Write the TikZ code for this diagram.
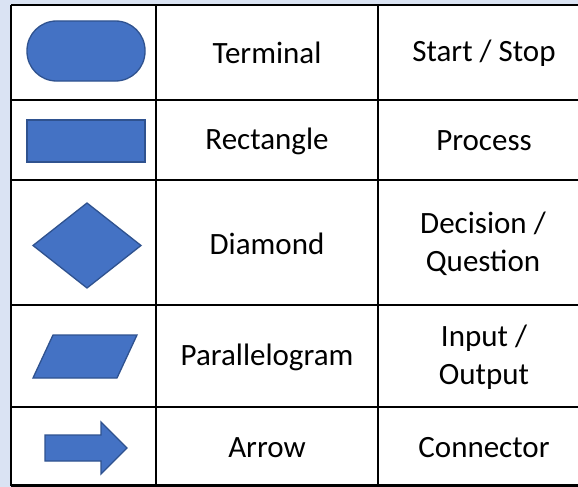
\documentclass[tikz,border=0pt]{standalone}
\usepackage{fontspec}
\setmainfont{Carlito}
\definecolor{pagebg}{HTML}{DAE3F3}
\definecolor{shapefill}{HTML}{4472C4}
\definecolor{shapeedge}{HTML}{2F528F}
\tikzset{
  gridline/.style={line width=2.6pt, black},
  symbol/.style={fill=shapefill, draw=shapeedge, line width=1.3pt, line join=miter},
  label/.style={font=\fontsize{31}{38}\selectfont, align=center, inner sep=0pt},
}
\begin{document}
\begin{tikzpicture}[x=1pt, y=-1pt]
  % page and table background
  \fill[pagebg] (0,0) rectangle (578,487);
  \useasboundingbox (0,0) rectangle (578,487);
  \fill[white] (11,5) rectangle (578,486);

  % table rules
  \draw[gridline] (11,5) -- (578,5);
  \draw[gridline] (11,100) -- (578,100);
  \draw[gridline] (11,180) -- (578,180);
  \draw[gridline] (11,305) -- (578,305);
  \draw[gridline] (11,407) -- (578,407);
  \draw[gridline] (11,485.5) -- (578,485.5);
  \draw[gridline] (11,5) -- (11,486);
  \draw[gridline] (156,5) -- (156,486);
  \draw[gridline] (378,5) -- (378,486);

  % symbols
  \draw[symbol, rounded corners=29.5pt] (27,21) rectangle (145,81);
  \draw[symbol] (27,120) rectangle (145,162);
  \draw[symbol] (87,203) -- (141,245.5) -- (87,288) -- (33,245.5) -- cycle;
  \draw[symbol] (53,335) -- (137,335) -- (117,378) -- (33,378) -- cycle;
  \draw[symbol] (45,435) -- (101,435) -- (101,422) -- (127,448)
                -- (101,474) -- (101,461) -- (45,461) -- cycle;

  % names
  \node[label] (n1) at (267,53) {Terminal};
  \node[label] (n2) at (267,141) {Rectangle};
  \node[label] (n3) at (267,244) {Diamond};
  \node[label] (n4) at (267,357) {Parallelogram};
  \node[label] (n5) at (267,448) {Arrow};

  % meanings
  \node[label] (m1) at (484,53) {Start / Stop};
  \node[label] (m2) at (484,141) {Process};
  \node[label] (m3) at (483,244) {Decision /\\Question};
  \node[label] (m4) at (484,357) {Input /\\Output};
  \node[label] (m5) at (484,448) {Connector};
\end{tikzpicture}
\end{document}
